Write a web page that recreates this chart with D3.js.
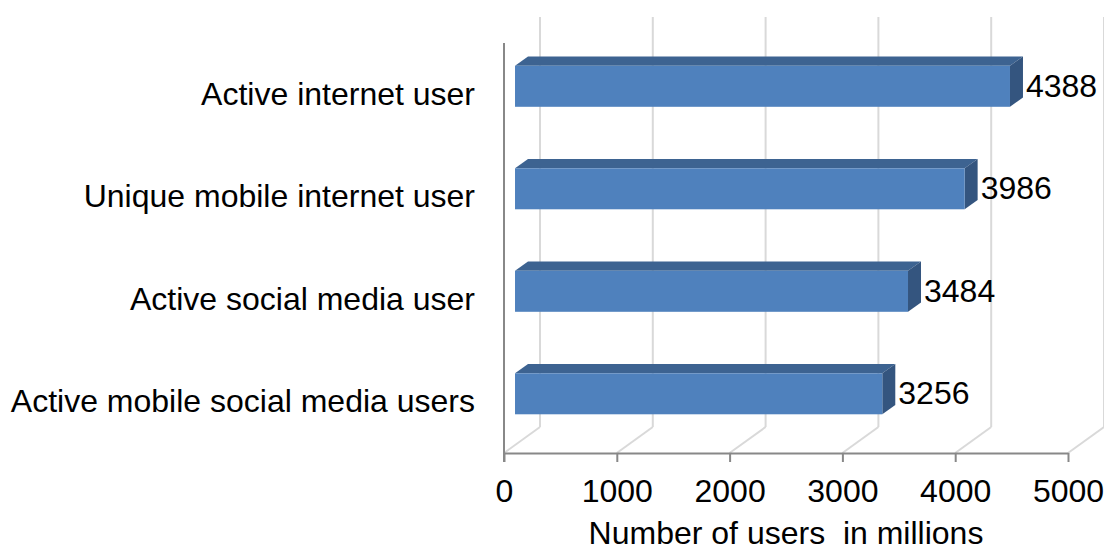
<!DOCTYPE html>
<html>
<head>
<meta charset="utf-8">
<script src="https://cdn.jsdelivr.net/npm/d3@7"></script>
<style>
  html, body { margin: 0; padding: 0; background: #fff; }
  svg { display: block; font-family: "Liberation Sans", Arial, sans-serif; }
</style>
</head>
<body>
<svg id="chart" width="1104" height="551"></svg>
<script>
const categories = ["Active internet user", "Unique mobile internet user", "Active social media user", "Active mobile social media users"];
const values = [4388, 3986, 3484, 3256];
const xTicks = [0, 1000, 2000, 3000, 4000, 5000];
const axisTitle = "Number of users  in millions";

const svg = d3.select("#chart");
const fontSize = 32;

// front-plane scales
const x = d3.scaleLinear().domain([0, 5000]).range([504, 1068]);
const y = d3.scaleBand().domain(categories).range([43, 453]).paddingInner(0).paddingOuter(0);
// depth: 0 = front plane, 1 = back wall
const depthX = d3.scaleLinear().domain([0, 1]).range([0, 36]);
const depthY = d3.scaleLinear().domain([0, 1]).range([0, -26]);
const tFront = 0.306, tBack = 0.667;
const barFrac = 0.4;

const gridColor = "#D9D9D9";
const axisColor = "#888888";

// back wall + floor gridlines
const grid = svg.append("g");
xTicks.forEach(t => {
  const fx = x(t), fy = y.range()[1];
  const bx = fx + depthX(1), by = fy + depthY(1);
  grid.append("line").attr("x1", fx).attr("y1", fy).attr("x2", bx).attr("y2", by)
    .attr("stroke", gridColor).attr("stroke-width", 2);
  grid.append("line").attr("x1", bx).attr("y1", by).attr("x2", bx).attr("y2", y.range()[0] + depthY(1))
    .attr("stroke", gridColor).attr("stroke-width", 2);
});

// bars
const bars = svg.append("g");
const bh = y.bandwidth() * barFrac;
categories.forEach((c, i) => {
  const v = values[i];
  const y0 = y(c) + (y.bandwidth() - bh) / 2;
  const fx0 = x(0) + depthX(tFront), fx1 = x(v) + depthX(tFront);
  const fy0 = y0 + depthY(tFront), fy1 = fy0 + bh;
  const ddx = depthX(tBack) - depthX(tFront), ddy = depthY(tBack) - depthY(tFront);
  // top face
  bars.append("path")
    .attr("d", `M${fx0},${fy0} L${fx0 + ddx},${fy0 + ddy} L${fx1 + ddx},${fy0 + ddy} L${fx1},${fy0} Z`)
    .attr("fill", "#3D6391");
  // side face
  bars.append("path")
    .attr("d", `M${fx1},${fy0} L${fx1 + ddx},${fy0 + ddy} L${fx1 + ddx},${fy1 + ddy} L${fx1},${fy1} Z`)
    .attr("fill", "#34557F");
  // front face
  bars.append("rect")
    .attr("x", fx0).attr("y", fy0).attr("width", fx1 - fx0).attr("height", bh)
    .attr("fill", "#4F81BD");
  // value label
  svg.append("text")
    .attr("x", x(v) + depthX(tBack) + 3)
    .attr("y", fy0 + bh / 2 + 10.5)
    .attr("font-size", fontSize)
    .attr("fill", "#000")
    .text(v);
});

// category labels
categories.forEach(c => {
  svg.append("text")
    .attr("x", 475)
    .attr("y", y(c) + y.bandwidth() / 2 + 10.5)
    .attr("text-anchor", "end")
    .attr("font-size", fontSize)
    .attr("fill", "#000")
    .text(c);
});

// left axis line
svg.append("line")
  .attr("x1", x(0)).attr("x2", x(0))
  .attr("y1", y.range()[0]).attr("y2", y.range()[1] + 9)
  .attr("stroke", axisColor).attr("stroke-width", 2);

// bottom axis
const xAxis = d3.axisBottom(x).tickValues(xTicks).tickSize(9).tickSizeOuter(0).tickFormat(d3.format("d"));
const gx = svg.append("g").attr("transform", `translate(0,${y.range()[1]})`).call(xAxis);
gx.select(".domain").attr("stroke", axisColor).attr("stroke-width", 2);
gx.selectAll(".tick line").attr("stroke", axisColor).attr("stroke-width", 2);
gx.selectAll(".tick text")
  .attr("font-size", fontSize)
  .attr("font-family", "Liberation Sans, Arial, sans-serif")
  .attr("fill", "#000")
  .attr("dy", null)
  .attr("y", 48.7);

// axis title
svg.append("text")
  .attr("x", (x.range()[0] + x.range()[1]) / 2)
  .attr("y", 544)
  .attr("text-anchor", "middle")
  .attr("font-size", fontSize)
  .attr("fill", "#000")
  .style("white-space", "pre")
  .text(axisTitle);
</script>
</body>
</html>
